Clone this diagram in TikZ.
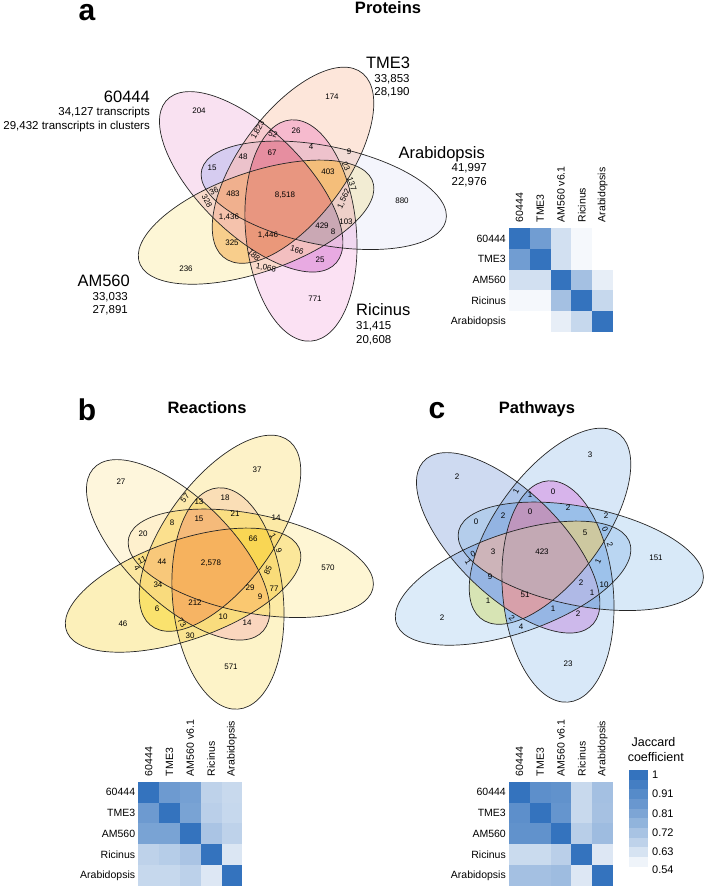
\documentclass[tikz,border=0pt]{standalone}
\usepackage{fontspec}
\setmainfont{Liberation Sans}
\usepackage{etoolbox}
\usetikzlibrary{positioning}

% heat map blue
\definecolor{hmdark}{RGB}{52,115,190}

\tikzset{
  cnt/.style={font=\fontsize{8}{9}\selectfont, inner sep=0pt},
  setname/.style={font=\fontsize{16.5}{18}\selectfont, inner sep=0pt},
  setsub/.style={font=\fontsize{11.5}{13}\selectfont, inner sep=0pt},
  hmlabel/.style={font=\fontsize{10.5}{12}\selectfont, inner sep=0pt},
  paneltag/.style={font=\fontsize{30}{32}\selectfont\bfseries, inner sep=0pt, anchor=base, text height=17pt},
  paneltitle/.style={font=\fontsize{16.5}{18}\selectfont\bfseries, inner sep=0pt, anchor=base},
  vennline/.style={draw=black!85, line width=0.7pt},
}

% ellipse shape (axis angles: 60444 130.5, TME3 58.5, Arabidopsis -13.5, Ricinus -85.5, AM560 202.5)
\newcommand{\vennS}{32.5}
\newcommand{\vennE}{11.6}
\newcommand{\vennA}{111}
\newcommand{\vennB}{49}
\newcommand{\vin}[1]{\clip[rotate=#1] (\vennS,\vennE) ellipse ({\vennA} and {\vennB});}
\newcommand{\vout}[1]{\pgfseteorule\clip[rotate=#1] (-600,-600) rectangle (600,600) (\vennS,\vennE) ellipse ({\vennA} and {\vennB});}
% one region: inside #1, outside #2, colour #3 (RGB)
\newcommand{\vpart}[3]{%
  \begin{scope}
    \definecolor{vtmp}{RGB}{#3}
    \forcsvlist{\vin}{#1}\forcsvlist{\vout}{#2}
    \fill[vtmp] (-600,-600) rectangle (600,600);
  \end{scope}}
% base fills, multiplied
\newcommand{\vennbase}[5]{%
  \definecolor{vfA}{RGB}{#1}\definecolor{vfB}{RGB}{#2}\definecolor{vfC}{RGB}{#3}
  \definecolor{vfD}{RGB}{#4}\definecolor{vfE}{RGB}{#5}
  \begin{scope}[blend group=multiply]
    \fill[vfA, rotate=130.5] (\vennS,\vennE) ellipse ({\vennA} and {\vennB});
    \fill[vfB, rotate=58.5] (\vennS,\vennE) ellipse ({\vennA} and {\vennB});
    \fill[vfC, rotate=-13.5] (\vennS,\vennE) ellipse ({\vennA} and {\vennB});
    \fill[vfD, rotate=-85.5] (\vennS,\vennE) ellipse ({\vennA} and {\vennB});
    \fill[vfE, rotate=202.5] (\vennS,\vennE) ellipse ({\vennA} and {\vennB});
  \end{scope}}
\newcommand{\venndraw}{%
  \foreach \ang in {130.5,58.5,-13.5,-85.5,202.5}
    \draw[vennline, rotate=\ang] (\vennS,\vennE) ellipse ({\vennA} and {\vennB});}

% Jaccard grid: #1 top-left corner, #2 name prefix, #3 rows of shades
\newcommand{\jaccardgrid}[3]{%
  \begin{scope}[shift={#1}]
    \foreach \row [count=\r] in {#3}
      \foreach \p [count=\c] in \row
        \fill[hmdark!\p!white] ({(\c-1)*20.8},{-(\r-1)*20.8}) rectangle ++(20.8,-20.8);
    \foreach \t [count=\r] in {60444,TME3,AM560,Ricinus,Arabidopsis}
      \node[hmlabel, anchor=east] (#2row\r) at (-3,{-(\r-0.5)*20.8}) {\t};
    \foreach \t [count=\c] in {60444,TME3,AM560 v6.1,Ricinus,Arabidopsis}
      \node[hmlabel, rotate=90, anchor=west] (#2col\c) at ({(\c-0.5)*20.8},5.5) {\t};
  \end{scope}}

\begin{document}
\begin{tikzpicture}[x=1pt, y=1pt]
	\useasboundingbox (0,0) rectangle (709,-887);

	% 1. Panel titles
	\node[paneltag] (taga) at (87,-20) {a};
	\node[paneltitle] (titlea) at (388,-13) {Proteins};
	\node[paneltag] (tagb) at (87,-420) {b};
	\node[paneltitle] (titleb) at (207,-413) {Reactions};
	\node[paneltag] (tagc) at (437,-418) {c};
	\node[paneltitle] (titlec) at (537,-413) {Pathways};

	% 2. Venn diagram, proteins
	\begin{scope}[shift={(285,-199)}, xscale=1.13]
		\vennbase{249,225,241}{253,230,218}{244,245,252}{251,225,243}{253,246,214}
		\vpart{130.5,-13.5}{58.5,-85.5,202.5}{214,204,240}
		\vpart{58.5,-85.5}{130.5,-13.5,202.5}{246,186,206}
		\vpart{130.5,-85.5}{58.5,-13.5,202.5}{232,170,226}
		\vpart{58.5,202.5}{130.5,-13.5,-85.5}{248,206,140}
		\vpart{58.5,-13.5,-85.5,202.5}{130.5}{244,190,122}
		\vpart{130.5,-13.5,-85.5,202.5}{58.5}{202,168,180}
		\vpart{130.5,58.5,-85.5,202.5}{-13.5}{234,152,122}
		\vpart{130.5,58.5,-13.5,202.5}{-85.5}{240,176,142}
		\vpart{130.5,58.5,-13.5,-85.5}{202.5}{230,142,160}
		\vpart{130.5,58.5,-13.5,-85.5,202.5}{}{232,150,128}
		\venndraw
	\end{scope}

	% 3. Venn diagram, reactions
	\begin{scope}[shift={(212,-567)}, xscale=1.13]
		\vennbase{254,246,220}{253,242,200}{254,246,212}{253,243,200}{252,240,186}
		\vpart{130.5,-13.5}{58.5,-85.5,202.5}{254,240,205}
		\vpart{58.5,-85.5}{130.5,-13.5,202.5}{250,222,182}
		\vpart{130.5,-85.5}{58.5,-13.5,202.5}{250,214,190}
		\vpart{58.5,202.5}{130.5,-13.5,-85.5}{250,226,110}
		\vpart{58.5,-13.5,-85.5,202.5}{130.5}{249,214,84}
		\vpart{130.5,-13.5,-85.5,202.5}{58.5}{250,200,112}
		\vpart{130.5,58.5,-85.5,202.5}{-13.5}{246,180,100}
		\vpart{130.5,58.5,-13.5,202.5}{-85.5}{248,200,122}
		\vpart{130.5,58.5,-13.5,-85.5}{202.5}{245,186,122}
		\vpart{130.5,58.5,-13.5,-85.5,202.5}{}{246,178,94}
		\venndraw
	\end{scope}

	% 4. Venn diagram, pathways
	\begin{scope}[shift={(542,-560)}, xscale=1.13]
		\vennbase{206,218,241}{216,231,247}{216,233,248}{216,232,248}{220,235,249}
		\vpart{130.5,-13.5}{58.5,-85.5,202.5}{180,205,235}
		\vpart{58.5,-85.5}{130.5,-13.5,202.5}{215,180,235}
		\vpart{130.5,-85.5}{58.5,-13.5,202.5}{205,185,235}
		\vpart{58.5,202.5}{130.5,-13.5,-85.5}{215,228,180}
		\vpart{58.5,-13.5,-85.5,202.5}{130.5}{205,200,160}
		\vpart{130.5,-13.5,-85.5,202.5}{58.5}{175,185,230}
		\vpart{130.5,58.5,-85.5,202.5}{-13.5}{215,160,170}
		\vpart{130.5,58.5,-13.5,202.5}{-85.5}{205,180,185}
		\vpart{130.5,58.5,-13.5,-85.5}{202.5}{190,150,190}
		\vpart{130.5,58.5,-13.5,-85.5,202.5}{}{195,169,180}
		\venndraw
	\end{scope}

	% 5. Counts, proteins
	\foreach \x/\y/\r/\t [count=\i] in {199/111/0/204, 332/97/0/174, 402/201/0/880,
		315/299/0/771, 186/269/0/236, 212/168/0/15, 243/157/0/48, {258/130/62/1,823},
		273/134/-20/52, 296/131/0/26, 272/153/0/67, 311/147/0/4, 349/152/0/9,
		346/166/-65/23, 328/172/0/403, 352/184/-70/137, {344/199/65/1,562},
		{285/195/0/8,518}, 214/191/25/36, 233/194/0/483, 207/201/-60/328,
		{229/217/0/1,436}, 322/226/0/429, 346/222/0/103, 333/232/0/8,
		{268/235/0/1,446}, 232/243/0/325, 297/250/-15/166, 320/260/0/25,
		254/255/-45/188, {266/268/-10/1,068}}
		\node[cnt, rotate=\r] (na\i) at (\x,-\y) {\t};

	% 6. Counts, reactions
	\foreach \x/\y/\r/\t [count=\i] in {121/482/0/27, 257/470/0/37, 328/568/0/570,
		231/667/0/571, 123/624/0/46, 185/498/50/57, 199/502/0/13, 225/498/0/18,
		199/519/0/15, 235/514/0/21, 172/523/0/8, 143/534/0/20, 253/539/0/66,
		276/518/0/14, 273/536/-60/1, 279/551/-70/9, 268/570/65/85, 142/560/25/11,
		137/568/-60/4, 162/562/0/44, {211/563/0/2,578}, 158/585/0/34, 250/588/0/29,
		274/589/0/77, 260/597/0/9, 157/609/0/6, 195/603/0/212, 182/623/-55/73,
		223/617/0/10, 247/623/0/14, 190/636/0/30}
		\node[cnt, rotate=\r] (nb\i) at (\x,-\y) {\t};

	% 7. Counts, pathways
	\foreach \x/\y/\r/\t [count=\i] in {457/477/0/2, 590/455/0/3, 656/558/0/151,
		568/664/0/23, 442/618/0/2, 516/491/62/1, 530/495/0/1, 553/492/0/0,
		503/516/0/2, 530/512/0/0, 568/508/0/2, 476/522/0/0, 606/516/0/2,
		585/533/0/5, 605/529/-65/0, 610/545/-70/2, 473/554/25/0, 468/562/-60/1,
		493/552/0/3, 542/552/0/423, 598/561/65/1, 490/577/0/9, 525/595/0/51,
		581/583/0/2, 604/585/0/10, 592/593/0/1, 488/601/0/1, 553/609/0/1,
		578/614/0/2, 512/618/-45/2, 521/627/0/4}
		\node[cnt, rotate=\r] (nc\i) at (\x,-\y) {\t};

	% 8. Set names (proteins)
	\node[setname, anchor=base east] (s60444) at (150,-102) {60444};
	\node[setsub, anchor=base east] (s60444t) at (150,-115) {34,127 transcripts};
	\node[setsub, anchor=base east] (s60444c) at (150,-129) {29,432 transcripts in clusters};
	\node[setname, anchor=base] (stme) at (388,-68) {TME3};
	\node[setsub, anchor=base] (stmet) at (392,-82) {33,853};
	\node[setsub, anchor=base] (stmec) at (392,-95) {28,190};
	\node[setname, anchor=base east] (sara) at (485,-158) {Arabidopsis};
	\node[setsub, anchor=base east] (sarat) at (487,-171) {41,997};
	\node[setsub, anchor=base east] (sarac) at (487,-185) {22,976};
	\node[setname, anchor=base east] (sam) at (130,-286) {AM560};
	\node[setsub, anchor=base east] (samt) at (128,-300) {33,033};
	\node[setsub, anchor=base east] (samc) at (128,-313) {27,891};
	\node[setname, anchor=base west] (sric) at (356,-315) {Ricinus};
	\node[setsub, anchor=base west] (srict) at (356,-329) {31,415};
	\node[setsub, anchor=base west] (sricc) at (356,-343) {20,608};

	% 9. Jaccard heat maps
	\jaccardgrid{(509,-228)}{ha}{{100,70,22,5,0},{70,100,22,5,0},{22,22,100,45,12},{5,5,45,100,28},{0,0,12,28,100}}
	\jaccardgrid{(138.3,-781.7)}{hb}{{100,72,68,32,27},{72,100,66,34,28},{66,66,100,42,32},{32,36,42,100,18},{28,28,33,17,100}}
	\jaccardgrid{(509,-781.7)}{hc}{{100,80,78,27,45},{80,100,76,27,44},{78,78,100,35,48},{26,26,34,100,17},{45,45,48,17,100}}

	% 10. Colour key
	\node[hmlabel, font=\fontsize{12.5}{14}\selectfont] (keyt1) at (653.5,-742) {Jaccard};
	\node[hmlabel, font=\fontsize{12.5}{14}\selectfont] (keyt2) at (655.8,-757) {coefficient};
	\foreach \p [count=\k] in {100,92,83,74,64,54,43,32,20,8}
		\fill[hmdark!\p!white] (629.3,{-770-(\k-1)*9.67}) rectangle ++(19,-9.67);
	\foreach \v/\y [count=\k] in {1/775,0.91/794,0.81/813.3,0.72/832.3,0.63/851.7,0.54/870}
		\node[hmlabel, font=\fontsize{11}{12}\selectfont, anchor=west] (keyv\k) at (652,-\y) {\v};
\end{tikzpicture}
\end{document}
